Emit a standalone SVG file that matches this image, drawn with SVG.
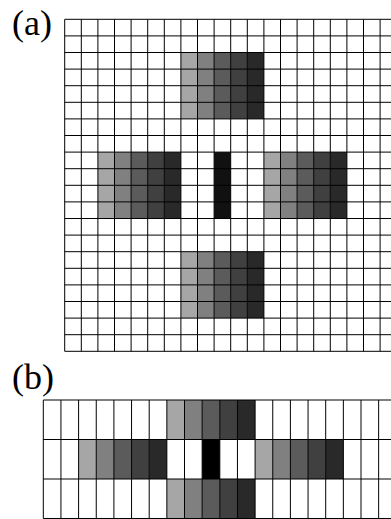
<svg xmlns="http://www.w3.org/2000/svg" width="391" height="519" viewBox="0 0 391 519">
<style>
.s1{fill:#a6a6a6}.s2{fill:#808080}.s3{fill:#5b5b5b}.s4{fill:#404040}.s5{fill:#292929}.bk{fill:#111}.bk2{fill:#000}
.grid{fill:none;stroke:#000;stroke-width:1}
.lbl{font-family:"Liberation Serif","Times New Roman",serif;font-size:36px;fill:#000}
</style>
<rect width="391" height="519" fill="#fff"/>
<text class="lbl" x="12" y="35">(a)</text>
<text class="lbl" x="12" y="389">(b)</text>
<g id="panel-a">
  <g id="a-top">
    <rect class="s1" x="180.9" y="52.5" width="16.6" height="66.4"/>
    <rect class="s2" x="197.5" y="52.5" width="16.6" height="66.4"/>
    <rect class="s3" x="214.1" y="52.5" width="16.6" height="66.4"/>
    <rect class="s4" x="230.7" y="52.5" width="16.6" height="66.4"/>
    <rect class="s5" x="247.3" y="52.5" width="16.6" height="66.4"/>
  </g>
  <g id="a-left">
    <rect class="s1" x="97.9" y="152.1" width="16.6" height="66.4"/>
    <rect class="s2" x="114.5" y="152.1" width="16.6" height="66.4"/>
    <rect class="s3" x="131.1" y="152.1" width="16.6" height="66.4"/>
    <rect class="s4" x="147.7" y="152.1" width="16.6" height="66.4"/>
    <rect class="s5" x="164.3" y="152.1" width="16.6" height="66.4"/>
  </g>
  <g id="a-center">
    <rect class="bk" x="214.1" y="152.1" width="16.6" height="66.4"/>
  </g>
  <g id="a-right">
    <rect class="s1" x="263.9" y="152.1" width="16.6" height="66.4"/>
    <rect class="s2" x="280.5" y="152.1" width="16.6" height="66.4"/>
    <rect class="s3" x="297.1" y="152.1" width="16.6" height="66.4"/>
    <rect class="s4" x="313.7" y="152.1" width="16.6" height="66.4"/>
    <rect class="s5" x="330.3" y="152.1" width="16.6" height="66.4"/>
  </g>
  <g id="a-bottom">
    <rect class="s1" x="180.9" y="251.7" width="16.6" height="66.4"/>
    <rect class="s2" x="197.5" y="251.7" width="16.6" height="66.4"/>
    <rect class="s3" x="214.1" y="251.7" width="16.6" height="66.4"/>
    <rect class="s4" x="230.7" y="251.7" width="16.6" height="66.4"/>
    <rect class="s5" x="247.3" y="251.7" width="16.6" height="66.4"/>
  </g>
  <path id="a-grid" class="grid" d="M64.7 19.3V351.3M81.3 19.3V351.3M97.9 19.3V351.3M114.5 19.3V351.3M131.1 19.3V351.3M147.7 19.3V351.3M164.3 19.3V351.3M180.9 19.3V351.3M197.5 19.3V351.3M214.1 19.3V351.3M230.7 19.3V351.3M247.3 19.3V351.3M263.9 19.3V351.3M280.5 19.3V351.3M297.1 19.3V351.3M313.7 19.3V351.3M330.3 19.3V351.3M346.9 19.3V351.3M363.5 19.3V351.3M380.1 19.3V351.3M396.7 19.3V351.3
M64.7 19.3H396.7M64.7 35.9H396.7M64.7 52.5H396.7M64.7 69.1H396.7M64.7 85.7H396.7M64.7 102.3H396.7M64.7 118.9H396.7M64.7 135.5H396.7M64.7 152.1H396.7M64.7 168.7H396.7M64.7 185.3H396.7M64.7 201.9H396.7M64.7 218.5H396.7M64.7 235.1H396.7M64.7 251.7H396.7M64.7 268.3H396.7M64.7 284.9H396.7M64.7 301.5H396.7M64.7 318.1H396.7M64.7 334.7H396.7M64.7 351.3H396.7"/>
</g>
<g id="panel-b">
  <g id="b-top">
    <rect class="s1" x="166.85" y="400" width="17.65" height="39.5"/>
    <rect class="s2" x="184.5" y="400" width="17.65" height="39.5"/>
    <rect class="s3" x="202.15" y="400" width="17.65" height="39.5"/>
    <rect class="s4" x="219.8" y="400" width="17.65" height="39.5"/>
    <rect class="s5" x="237.45" y="400" width="17.65" height="39.5"/>
  </g>
  <g id="b-middle">
    <rect class="s1" x="78.6" y="439.5" width="17.65" height="39.5"/>
    <rect class="s2" x="96.25" y="439.5" width="17.65" height="39.5"/>
    <rect class="s3" x="113.9" y="439.5" width="17.65" height="39.5"/>
    <rect class="s4" x="131.55" y="439.5" width="17.65" height="39.5"/>
    <rect class="s5" x="149.2" y="439.5" width="17.65" height="39.5"/>
    <rect class="bk2" x="202.15" y="439.5" width="17.65" height="39.5"/>
    <rect class="s1" x="255.1" y="439.5" width="17.65" height="39.5"/>
    <rect class="s2" x="272.75" y="439.5" width="17.65" height="39.5"/>
    <rect class="s3" x="290.4" y="439.5" width="17.65" height="39.5"/>
    <rect class="s4" x="308.05" y="439.5" width="17.65" height="39.5"/>
    <rect class="s5" x="325.7" y="439.5" width="17.65" height="39.5"/>
  </g>
  <g id="b-bottom">
    <rect class="s1" x="166.85" y="479" width="17.65" height="39.5"/>
    <rect class="s2" x="184.5" y="479" width="17.65" height="39.5"/>
    <rect class="s3" x="202.15" y="479" width="17.65" height="39.5"/>
    <rect class="s4" x="219.8" y="479" width="17.65" height="39.5"/>
    <rect class="s5" x="237.45" y="479" width="17.65" height="39.5"/>
  </g>
  <path id="b-grid" class="grid" d="M43.3 400V518.5M60.95 400V518.5M78.6 400V518.5M96.25 400V518.5M113.9 400V518.5M131.55 400V518.5M149.2 400V518.5M166.85 400V518.5M184.5 400V518.5M202.15 400V518.5M219.8 400V518.5M237.45 400V518.5M255.1 400V518.5M272.75 400V518.5M290.4 400V518.5M308.05 400V518.5M325.7 400V518.5M343.35 400V518.5M361 400V518.5M378.65 400V518.5M396.3 400V518.5
M43.3 400H396.3M43.3 439.5H396.3M43.3 479H396.3M43.3 518.5H396.3"/>
</g>
</svg>
